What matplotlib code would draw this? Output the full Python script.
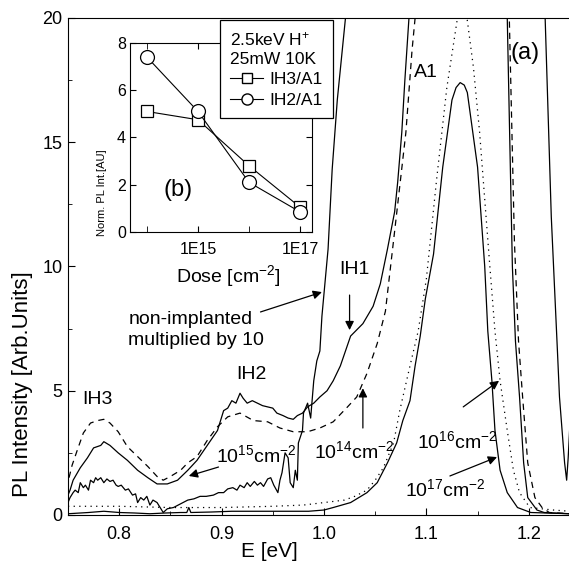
import matplotlib
matplotlib.use("Agg")
import matplotlib.pyplot as plt
from matplotlib.lines import Line2D
from matplotlib.ticker import MultipleLocator, FixedLocator, FixedFormatter, NullFormatter

# ---- spectra (E in eV, PL intensity in arb. units) ----
# non-implanted sample, multiplied by 10
e_ni = [0.750, 0.752, 0.755, 0.757, 0.760, 0.762, 0.765, 0.767, 0.770, 0.772,
        0.775, 0.777, 0.779, 0.782, 0.785, 0.788, 0.791, 0.794, 0.797, 0.799,
        0.802, 0.806, 0.809, 0.813, 0.816, 0.818, 0.821, 0.824, 0.827, 0.830,
        0.833, 0.837, 0.840, 0.843, 0.847, 0.853, 0.860, 0.867, 0.873, 0.879,
        0.885, 0.892, 0.897, 0.902, 0.906, 0.911, 0.915, 0.918, 0.922, 0.925,
        0.928, 0.932, 0.935, 0.938, 0.941, 0.945, 0.948, 0.951, 0.955, 0.957,
        0.959, 0.962, 0.965, 0.967, 0.970, 0.972, 0.974, 0.975, 0.979, 0.980,
        0.984, 0.987, 0.989, 0.990, 0.993, 0.996, 0.998, 1.000, 1.004, 1.008,
        1.013, 1.021, 1.025, 1.212, 1.216, 1.222, 1.228, 1.230, 1.235, 1.237,
        1.2385, 1.240]
i_ni = [0.5, 0.7, 0.9, 1.0, 0.9, 1.3, 1.1, 1.2, 1.0, 1.4,
        1.3, 1.5, 1.4, 1.5, 1.3, 1.45, 1.35, 1.4, 1.2, 1.15,
        1.2, 1.0, 1.05, 0.8, 0.85, 0.5, 0.7, 0.6, 0.75, 0.4,
        0.6, 0.5, 0.3, 0.1, 0.25, 0.3, 0.45, 0.6, 0.65, 0.75,
        0.75, 0.8, 0.9, 0.9, 1.05, 1.1, 1.0, 1.2, 1.1, 1.3,
        1.15, 1.35, 1.2, 1.3, 1.15, 1.45, 1.5, 1.2, 0.9, 1.4,
        1.7, 2.5, 2.3, 1.3, 1.1, 1.8, 1.4, 2.9, 3.4, 4.1,
        4.5, 3.9, 4.9, 5.4, 6.2, 6.6, 8.0, 8.9, 10.7, 13.9,
        16.7, 20.0, 23.0, 23.0, 20.0, 12.0, 6.6, 4.75, 2.1, 1.4,
        2.3, 3.5]

# 1e14 cm^-2 (dashed)
e_14 = [0.751, 0.754, 0.759, 0.765, 0.772, 0.779, 0.785, 0.791, 0.799, 0.808,
        0.818, 0.828, 0.837, 0.843, 0.850, 0.860, 0.867, 0.876, 0.886, 0.896,
        0.906, 0.918, 0.931, 0.945, 0.957, 0.970, 0.984, 0.996, 1.009, 1.023,
        1.032, 1.042, 1.052, 1.060, 1.067, 1.072, 1.080, 1.086, 1.089, 1.092,
        1.178, 1.181, 1.186, 1.190, 1.194, 1.199, 1.206, 1.213, 1.220, 1.240]
i_14 = [1.5, 2.0, 2.6, 3.3, 3.7, 3.8, 3.85, 3.7, 3.35, 2.75,
        2.35, 1.95, 1.55, 1.4, 1.55, 1.8, 2.1, 2.35, 3.0, 3.55,
        3.95, 4.1, 3.8, 3.75, 3.5, 3.35, 3.35, 3.5, 3.75, 4.35,
        4.75, 5.7, 6.9, 8.2, 10.7, 12.5, 15.4, 18.7, 20.0, 23.0,
        23.0, 20.0, 11.0, 7.0, 4.75, 2.1, 0.7, 0.3, 0.1, 0.05]

# 1e15 cm^-2 (solid)
e_15 = [0.750, 0.752, 0.755, 0.762, 0.769, 0.775, 0.782, 0.785, 0.791, 0.799,
        0.808, 0.818, 0.828, 0.837, 0.847, 0.857, 0.867, 0.876, 0.886, 0.896,
        0.902, 0.906, 0.910, 0.914, 0.918, 0.921, 0.925, 0.930, 0.935, 0.940,
        0.945, 0.950, 0.954, 0.960, 0.965, 0.970, 0.974, 0.979, 0.984, 0.990,
        0.996, 1.003, 1.009, 1.016, 1.026, 1.038, 1.048, 1.055, 1.062, 1.069,
        1.072, 1.076, 1.079, 1.083, 1.086, 1.176, 1.179, 1.184, 1.187, 1.191,
        1.195, 1.199, 1.208, 1.215, 1.240]
i_15 = [0.8, 1.0, 1.4, 1.9, 2.3, 2.7, 2.8, 2.95, 2.8, 2.5,
        2.2, 1.8, 1.5, 1.25, 1.25, 1.4, 1.8, 2.2, 2.8, 3.4,
        4.2, 4.3, 4.6, 4.5, 4.9, 4.7, 4.5, 4.6, 4.5, 4.4,
        4.35, 4.3, 4.1, 4.0, 3.9, 3.85, 4.0, 4.1, 4.35, 4.5,
        4.75, 5.0, 5.4, 6.0, 7.2, 7.7, 8.4, 9.3, 10.7, 12.2,
        13.4, 15.4, 17.5, 20.0, 23.0, 23.0, 20.0, 10.0, 7.0, 4.75,
        2.1, 0.7, 0.2, 0.1, 0.05]

# 1e16 cm^-2 (dotted)
e_16 = [0.750, 0.800, 0.850, 0.900, 0.950, 0.980, 1.000, 1.020, 1.030, 1.042,
        1.050, 1.058, 1.068, 1.074, 1.084, 1.092, 1.100, 1.110, 1.120, 1.130,
        1.135, 1.140, 1.146, 1.152, 1.162, 1.167, 1.172, 1.179, 1.185, 1.191,
        1.201, 1.224, 1.240]
i_16 = [0.35, 0.35, 0.3, 0.3, 0.35, 0.4, 0.5, 0.6, 0.75, 1.0,
        1.4, 1.9, 2.9, 4.2, 6.0, 7.4, 9.5, 13.5, 17.2, 19.9,
        20.4, 19.9, 18.0, 15.4, 10.0, 7.4, 5.4, 3.4, 1.8, 0.9,
        0.3, 0.2, 0.15]

# 1e17 cm^-2 (solid)
e_17 = [0.750, 0.770, 0.785, 0.800, 0.815, 0.830, 0.845, 0.860, 0.866, 0.868,
        0.870, 0.890, 0.910, 0.930, 0.950, 0.970, 0.985, 1.000, 1.009, 1.026,
        1.042, 1.052, 1.062, 1.071, 1.077, 1.084, 1.089, 1.094, 1.099, 1.107,
        1.116, 1.125, 1.129, 1.133, 1.137, 1.140, 1.150, 1.157, 1.160, 1.164,
        1.167, 1.172, 1.179, 1.189, 1.202, 1.240]
i_17 = [0.05, 0.1, 0.15, 0.1, 0.08, 0.05, 0.08, 0.1, 0.1, 0.3,
        0.1, 0.12, 0.15, 0.15, 0.15, 0.15, 0.15, 0.2, 0.3, 0.5,
        0.9, 1.3, 2.1, 2.9, 3.8, 4.6, 6.0, 7.2, 8.7, 10.5,
        14.0, 16.7, 17.2, 17.4, 17.3, 17.0, 14.0, 10.0, 7.4, 5.4,
        3.4, 1.8, 0.9, 0.3, 0.1, 0.05]

# inset (b): normalised PL intensity vs dose
dose = [1e14, 1e15, 1e16, 1e17]
ih3_a1 = [5.1, 4.75, 2.8, 1.05]
ih2_a1 = [7.4, 5.1, 2.1, 0.85]

plt.rcParams['font.family'] = ['Liberation Sans', 'DejaVu Sans']
plt.rcParams['mathtext.default'] = 'regular'

fig = plt.figure(figsize=(5.69, 5.64), dpi=100)
ax = fig.add_axes([0.1195, 0.0869, 0.8805, 0.8812])

lw = 0.9
ax.plot(e_17, i_17, color='k', lw=lw)
ax.plot(e_16, i_16, color='k', lw=lw, ls=(0, (1, 3.5)))
ax.plot(e_15, i_15, color='k', lw=lw)
ax.plot(e_14, i_14, color='k', lw=lw, ls=(0, (5, 4)))
ax.plot(e_ni, i_ni, color='k', lw=lw)

ax.set_xlim(0.75, 1.2393)
ax.set_ylim(0, 20)
ax.spines['right'].set_visible(False)
ax.xaxis.set_major_locator(MultipleLocator(0.1))
ax.xaxis.set_minor_locator(MultipleLocator(0.05))
ax.yaxis.set_major_locator(MultipleLocator(5))
ax.yaxis.set_minor_locator(MultipleLocator(2.5))
ax.tick_params(which='both', direction='in', top=False, right=False, labelsize=13)
ax.tick_params(which='major', length=5)
ax.tick_params(which='minor', length=3)
ax.tick_params(axis='x', pad=8)
ax.tick_params(axis='y', pad=4)
ax.set_xlabel('E [eV]', fontsize=15)
ax.xaxis.set_label_coords(0.401, -0.054)
ax.set_ylabel('PL Intensity [Arb.Units]', fontsize=16)
ax.yaxis.set_label_coords(-0.07, 0.264)

# labels on the spectra
ax.text(0.779, 4.63, 'IH3', ha='center', va='center', fontsize=14)
ax.text(0.929, 5.67, 'IH2', ha='center', va='center', fontsize=14)
ax.text(1.030, 9.86, 'IH1', ha='center', va='center', fontsize=14)
ax.text(1.100, 17.8, 'A1', ha='center', va='center', fontsize=14)
ax.text(1.196, 18.6, '(a)', ha='center', va='center', fontsize=17)
ax.text(0.809, 7.44, 'non-implanted\nmultiplied by 10', ha='left', va='center',
        fontsize=14, linespacing=1.25)
ax.text(0.934, 2.41, '10$^{15}$cm$^{-2}$', ha='center', va='center', fontsize=14)
ax.text(1.030, 2.58, '10$^{14}$cm$^{-2}$', ha='center', va='center', fontsize=14)
ax.text(1.130, 2.98, '10$^{16}$cm$^{-2}$', ha='center', va='center', fontsize=14)
ax.text(1.118, 1.05, '10$^{17}$cm$^{-2}$', ha='center', va='center', fontsize=14)

arrow = dict(arrowstyle='-|>', color='k', lw=0.9, mutation_scale=13, shrinkA=0, shrinkB=0)
ax.annotate('', xy=(1.025, 7.44), xytext=(1.025, 8.85), arrowprops=arrow)
ax.annotate('', xy=(0.998, 8.97), xytext=(0.938, 8.17), arrowprops=arrow)
ax.annotate('', xy=(0.868, 1.57), xytext=(0.897, 1.93), arrowprops=arrow)
ax.annotate('', xy=(1.038, 5.1), xytext=(1.038, 3.5), arrowprops=arrow)
ax.annotate('', xy=(1.171, 5.4), xytext=(1.136, 4.35), arrowprops=arrow)
ax.annotate('', xy=(1.169, 2.33), xytext=(1.123, 1.57), arrowprops=arrow)

# inset (b)
axin = fig.add_axes([0.2285, 0.5887, 0.3199, 0.3351])
axin.set_xscale('log')
axin.plot(dose, ih3_a1, color='k', lw=0.8, marker='s', ms=8, mfc='w', mec='k', mew=0.9)
axin.plot(dose, ih2_a1, color='k', lw=0.8, marker='o', ms=10, mfc='w', mec='k', mew=0.9)
axin.set_xlim(10 ** 13.667, 10 ** 17.235)
axin.set_ylim(0, 8)
axin.xaxis.set_major_locator(FixedLocator([1e15, 1e17]))
axin.xaxis.set_major_formatter(FixedFormatter(['1E15', '1E17']))
axin.xaxis.set_minor_locator(FixedLocator([1e14, 1e16]))
axin.xaxis.set_minor_formatter(NullFormatter())
axin.yaxis.set_major_locator(MultipleLocator(2))
axin.tick_params(which='both', direction='in', top=True, right=True, labelsize=11.5)
axin.tick_params(which='major', length=4)
axin.tick_params(which='minor', length=4)
axin.tick_params(axis='x', pad=7)
axin.tick_params(axis='y', pad=3)
axin.set_xlabel('Dose [cm$^{-2}$]', fontsize=14)
axin.xaxis.set_label_coords(0.54, -0.164)
axin.set_ylabel('Norm. PL Int.[AU]', fontsize=8)
axin.yaxis.set_label_coords(-0.126, 0.21)
axin.text(0.264, 0.222, '(b)', transform=axin.transAxes, ha='center', va='center', fontsize=17)

handles = [Line2D([], [], color='k', lw=0.8, marker='s', ms=7, mfc='w', mec='k'),
           Line2D([], [], color='k', lw=0.8, marker='o', ms=8, mfc='w', mec='k')]
leg = axin.legend(handles, ['IH3/A1', 'IH2/A1'], title='2.5keV H$^{+}$\n25mW 10K',
                  loc='upper left', bbox_to_anchor=(220 / 569, 1 - 20 / 564),
                  bbox_transform=fig.transFigure, fontsize=12.5, title_fontsize=12.5,
                  alignment='left', fancybox=False, edgecolor='k', framealpha=1,
                  handlelength=1.9, handletextpad=0.35, borderpad=0.6,
                  labelspacing=0.3, borderaxespad=0)
leg.get_title().set_linespacing(1.3)
leg.get_frame().set_linewidth(0.9)

fig.savefig('out.png', dpi=100)
